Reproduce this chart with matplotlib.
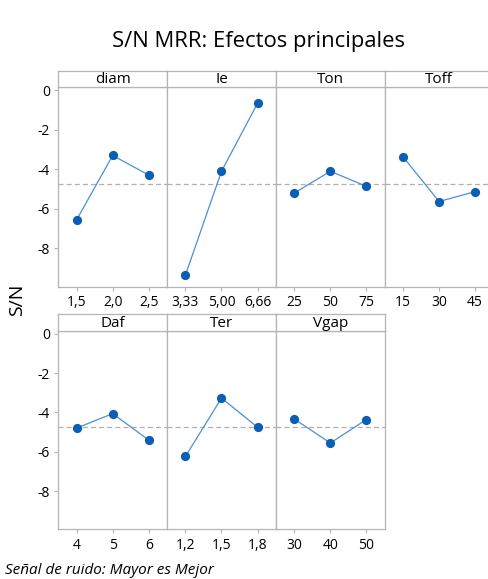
import matplotlib
matplotlib.use("Agg")
import matplotlib.pyplot as plt

plt.rcParams['font.family'] = ['Open Sans', 'DejaVu Sans']

# Datos (S/N por nivel de cada factor)
factores = ['diam', 'Ie', 'Ton', 'Toff', 'Daf', 'Ter', 'Vgap']
niveles = [['1,5', '2,0', '2,5'],
           ['3,33', '5,00', '6,66'],
           ['25', '50', '75'],
           ['15', '30', '45'],
           ['4', '5', '6'],
           ['1,2', '1,5', '1,8'],
           ['30', '40', '50']]
sn_diam = [-6.55, -3.30, -4.29]
sn_ie = [-9.35, -4.10, -0.66]
sn_ton = [-5.20, -4.10, -4.86]
sn_toff = [-3.37, -5.63, -5.13]
sn_daf = [-4.79, -4.06, -5.40]
sn_ter = [-6.23, -3.27, -4.75]
sn_vgap = [-4.33, -5.55, -4.36]
valores = [sn_diam, sn_ie, sn_ton, sn_toff, sn_daf, sn_ter, sn_vgap]
media = -4.74

W, H = 489, 579
fig = plt.figure(figsize=(W / 100, H / 100), dpi=100)

borde = '#b4b4b4'
azul_pto = '#0a5fb4'
azul_lin = '#4a8fd6'

# posiciones en pixeles: (izq, ancho), filas (top cabecera, bottom cabecera, bottom panel)
x0, ancho = 58.3, 108.8
filas = [(71, 87.3, 286.5), (314.3, 330.7, 529.3)]


def caja(x, y_top, y_bot):
    return [x / W, 1 - y_bot / H, ancho / W, (y_bot - y_top) / H]


for i, (nombre, etiquetas, vals) in enumerate(zip(factores, niveles, valores)):
    fila = 0 if i < 4 else 1
    col = i if i < 4 else i - 4
    top, mid, bot = filas[fila]
    x = x0 + col * ancho

    ax = fig.add_axes(caja(x, mid, bot))
    ax.plot(range(3), vals, color=azul_lin, lw=0.9, zorder=2)
    ax.scatter(range(3), vals, s=44, color=azul_pto, zorder=3, linewidths=0)
    ax.axhline(media, color='#b0b0b0', ls=(0, (4, 2.5)), lw=0.9, zorder=1)
    ax.set_xlim(-0.51, 2.51)
    ax.set_ylim(-9.93, 0.15)
    ax.set_xticks(range(3))
    ax.set_xticklabels(etiquetas, fontsize=10)
    ax.set_yticks([0, -2, -4, -6, -8])
    if col == 0:
        ax.set_yticklabels(['0', '-2', '-4', '-6', '-8'], fontsize=10)
        ax.tick_params(axis='y', length=3, color=borde, pad=3)
    else:
        ax.tick_params(axis='y', length=0, labelleft=False)
    ax.tick_params(axis='x', length=3, color=borde, pad=3)
    for s in ax.spines.values():
        s.set_color(borde)
        s.set_linewidth(0.9)

    hd = fig.add_axes(caja(x, top, mid))
    hd.set_xticks([])
    hd.set_yticks([])
    for s in hd.spines.values():
        s.set_color(borde)
        s.set_linewidth(0.9)
    hd.text(0.5, 0.45, nombre, ha='center', va='center', fontsize=11,
            transform=hd.transAxes)

fig.text(258.5 / W, 1 - 42 / H, 'S/N MRR: Efectos principales', ha='center',
         va='center', fontsize=15.8)
fig.text(17.5 / W, 1 - 300 / H, 'S/N', ha='center', va='center', rotation=90,
         fontsize=14)
fig.text(5 / W, 1 - 570 / H, 'Señal de ruido: Mayor es Mejor', ha='left',
         va='center', fontsize=11, style='italic')

fig.savefig('out.png', dpi=100)
